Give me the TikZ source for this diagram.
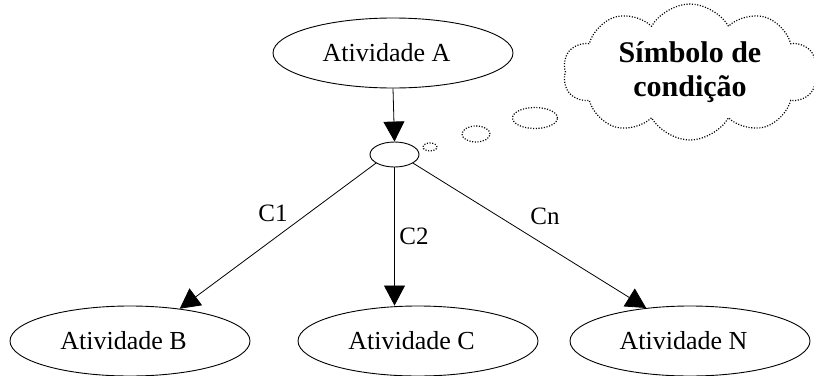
\documentclass[tikz,border=0pt]{standalone}
\usepackage{fontspec}
\setmainfont{Liberation Serif}
\usetikzlibrary{shapes.geometric,shapes.symbols,arrows.meta}
\begin{document}
\begin{tikzpicture}[x=1pt,y=-1pt,
  activity/.style={ellipse, draw, line width=0.9pt, minimum width=240pt,
    minimum height=70pt, inner sep=0pt, font=\fontsize{26}{30}\selectfont,
    execute at end node={\hspace*{13pt}}},
  junction/.style={ellipse, draw, line width=0.9pt, minimum width=49pt,
    minimum height=25pt, inner sep=0pt},
  dots/.style={draw, line width=1.2pt, dash pattern=on 1.1pt off 1.6pt},
  bubble/.style={ellipse, dots, inner sep=0pt},
  flow/.style={line width=0.8pt, -{Triangle[width=21pt,length=20pt]}},
  cond/.style={font=\fontsize{25}{30}\selectfont, inner sep=0pt}]
  \useasboundingbox (0,0) rectangle (814,375);

  % activities
  \node[activity] (a) at (393,53)  {Atividade A};
  \node[activity] (b) at (130,341) {Atividade B};
  \node[activity] (c) at (418,341) {Atividade C};
  \node[activity] (n) at (690,341) {Atividade N};

  % decision point
  \node[junction] (d) at (394.5,154.5) {};

  % thought bubble with its trail of small ellipses
  \node[bubble, minimum width=14pt, minimum height=8pt]  (e3) at (430,147) {};
  \node[bubble, minimum width=28pt, minimum height=16pt] (e2) at (476,134) {};
  \node[bubble, minimum width=45pt, minimum height=21pt] (e1) at (535,118) {};
  \node[cloud, dots, cloud puffs=10, cloud puff arc=120, cloud ignores aspect,
        minimum width=254pt, minimum height=136pt, inner sep=0pt, align=center,
        font=\bfseries\fontsize{30}{34}\selectfont] (k) at (690,72)
        {Símbolo de\\condição};

  % connectors
  \draw[flow] (a.south) -- (d.north);
  \draw[flow] (d.205) -- (b.33);
  \draw[flow] (d.south) -- (d.south |- c.north);
  \draw[flow] (d.-25) -- (n.143);

  % condition labels
  \node[cond] (l1) at (273,213) {C1};
  \node[cond] (l2) at (414,236) {C2};
  \node[cond] (ln) at (545,216) {Cn};
\end{tikzpicture}
\end{document}
